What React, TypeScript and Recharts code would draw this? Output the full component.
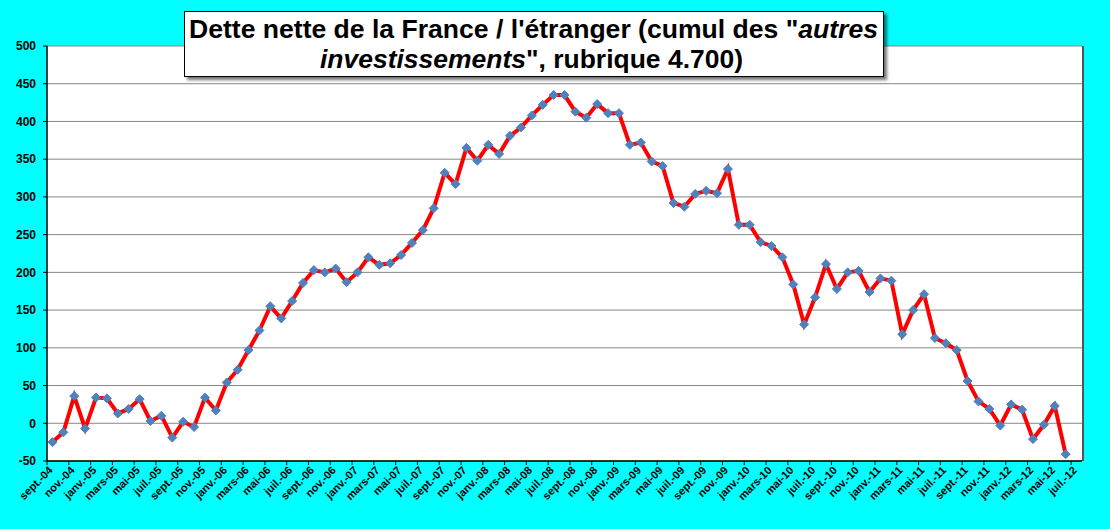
import { CartesianGrid, ComposedChart, Line, XAxis, YAxis } from 'recharts'

const months = [
  'sept.-04', 'oct.-04', 'nov.-04', 'déc.-04',
  'janv.-05', 'févr.-05', 'mars-05', 'avr.-05', 'mai-05', 'juin-05', 'juil.-05', 'août-05', 'sept.-05', 'oct.-05', 'nov.-05', 'déc.-05',
  'janv.-06', 'févr.-06', 'mars-06', 'avr.-06', 'mai-06', 'juin-06', 'juil.-06', 'août-06', 'sept.-06', 'oct.-06', 'nov.-06', 'déc.-06',
  'janv.-07', 'févr.-07', 'mars-07', 'avr.-07', 'mai-07', 'juin-07', 'juil.-07', 'août-07', 'sept.-07', 'oct.-07', 'nov.-07', 'déc.-07',
  'janv.-08', 'févr.-08', 'mars-08', 'avr.-08', 'mai-08', 'juin-08', 'juil.-08', 'août-08', 'sept.-08', 'oct.-08', 'nov.-08', 'déc.-08',
  'janv.-09', 'févr.-09', 'mars-09', 'avr.-09', 'mai-09', 'juin-09', 'juil.-09', 'août-09', 'sept.-09', 'oct.-09', 'nov.-09', 'déc.-09',
  'janv.-10', 'févr.-10', 'mars-10', 'avr.-10', 'mai-10', 'juin-10', 'juil.-10', 'août-10', 'sept.-10', 'oct.-10', 'nov.-10', 'déc.-10',
  'janv.-11', 'févr.-11', 'mars-11', 'avr.-11', 'mai-11', 'juin-11', 'juil.-11', 'août-11', 'sept.-11', 'oct.-11', 'nov.-11', 'déc.-11',
  'janv.-12', 'févr.-12', 'mars-12', 'avr.-12', 'mai-12', 'juin-12', 'juil.-12',
]

// net debt, billions of euros (juil.-12 has no value yet)
const detteNette = [
  -25, -12, 36, -7,
  34, 33, 13, 19, 32, 3, 10, -19, 2, -5, 34, 17,
  54, 71, 97, 123, 155, 139, 162, 186, 203, 200, 205, 187,
  200, 220, 210, 212, 223, 239, 256, 285, 332, 317, 365, 348,
  369, 357, 381, 392, 408, 422, 435, 435, 413, 405, 423, 411,
  411, 369, 372, 347, 341, 292, 287, 304, 308, 305, 337, 263,
  263, 240, 235, 220, 184, 131, 167, 211, 178, 200, 202, 174,
  192, 189, 118, 150, 171, 113, 106, 97, 56, 29, 19, -3,
  25, 18, -21, -2, 23, -41, null,
]

const yTicks = [-50, 0, 50, 100, 150, 200, 250, 300, 350, 400, 450, 500]

const chartData = months.map((month, i) => ({ month, value: detteNette[i] }))

const WIDTH = 1110
const HEIGHT = 529
const PLOT_LEFT = 47
const PLOT_RIGHT = 1082
const PLOT_TOP = 46
const PLOT_BOTTOM = 461
const BAND = (PLOT_RIGHT - PLOT_LEFT) / months.length
const FONT = '"Liberation Sans", Arial, sans-serif'

function MonthTick({ x, payload }: any) {
  const left = x - BAND / 2
  return (
    <g>
      <line x1={left} x2={left} y1={PLOT_BOTTOM} y2={PLOT_BOTTOM + 4} stroke="#000" />
      <text
        x={x + 1}
        y={PLOT_BOTTOM + 10}
        transform={`rotate(-45 ${x + 1} ${PLOT_BOTTOM + 10})`}
        textAnchor="end"
        fontFamily={FONT}
        fontWeight="bold"
        fontSize={11}
        fill="#000"
      >
        {payload.value}
      </text>
    </g>
  )
}

function Diamond({ cx, cy }: any) {
  if (cx == null || cy == null) return null
  const r = 4.5
  return (
    <polygon
      points={`${cx},${cy - r} ${cx + r},${cy} ${cx},${cy + r} ${cx - r},${cy}`}
      fill="#4F81BD"
      stroke="#4F81BD"
      strokeWidth={1}
    />
  )
}

function Title() {
  return (
    <>
      <div
        style={{
          position: 'absolute',
          left: 184,
          top: 11,
          width: 700,
          height: 66,
          boxSizing: 'border-box',
          background: '#fff',
          border: '1px solid #000',
          boxShadow: '3px 3px 3px rgba(0,0,0,0.55)',
        }}
      />
      <svg
        width={WIDTH}
        height={90}
        style={{ position: 'absolute', left: 0, top: 0, pointerEvents: 'none' }}
      >
        <text
          x={189}
          y={38}
          textLength={689}
          lengthAdjust="spacingAndGlyphs"
          fontFamily={FONT}
          fontWeight="bold"
          fontSize={26}
          fill="#000"
        >
          Dette nette de la France / l'étranger (cumul des "<tspan fontStyle="italic">autres</tspan>
        </text>
        <text
          x={320}
          y={68}
          textLength={423}
          lengthAdjust="spacingAndGlyphs"
          fontFamily={FONT}
          fontWeight="bold"
          fontSize={26}
          fill="#000"
        >
          <tspan fontStyle="italic">investissements</tspan>", rubrique 4.700)
        </text>
      </svg>
    </>
  )
}

export default function App() {
  return (
    <div style={{ position: 'relative', width: WIDTH, height: HEIGHT, background: '#00FFFF' }}>
      <style>{'body { margin: 0; }'}</style>
      <ComposedChart
        width={WIDTH}
        height={HEIGHT}
        data={chartData}
        margin={{ top: PLOT_TOP, right: WIDTH - PLOT_RIGHT, bottom: 0, left: 0 }}
      >
        <CartesianGrid vertical={false} stroke="#868686" strokeWidth={1} fill="#fff" />
        <XAxis
          dataKey="month"
          scale="band"
          interval={1}
          height={HEIGHT - PLOT_BOTTOM}
          axisLine={{ stroke: '#000', strokeWidth: 1.5 }}
          tickLine={false}
          tick={<MonthTick />}
        />
        <YAxis
          width={PLOT_LEFT}
          domain={[-50, 500]}
          ticks={yTicks}
          interval={0}
          axisLine={{ stroke: '#000', strokeWidth: 1.5 }}
          tickLine={{ stroke: '#000' }}
          tickSize={4}
          tickMargin={7}
          tick={{ fontFamily: FONT, fontWeight: 'bold', fontSize: 12, fill: '#000' }}
        />
        <YAxis
          yAxisId="border"
          orientation="right"
          width={0}
          domain={[-50, 500]}
          tick={false}
          tickLine={false}
          axisLine={{ stroke: '#555' }}
        />
        <Line
          dataKey="value"
          stroke="#FF0000"
          strokeWidth={4}
          dot={<Diamond />}
          activeDot={false}
          isAnimationActive={false}
        />
      </ComposedChart>
      {/* plot-area border on the right side */}
      <div
        style={{
          position: 'absolute',
          left: PLOT_RIGHT,
          top: PLOT_TOP,
          width: 1.5,
          height: PLOT_BOTTOM - PLOT_TOP,
          background: '#555',
        }}
      />
      <Title />
    </div>
  )
}
